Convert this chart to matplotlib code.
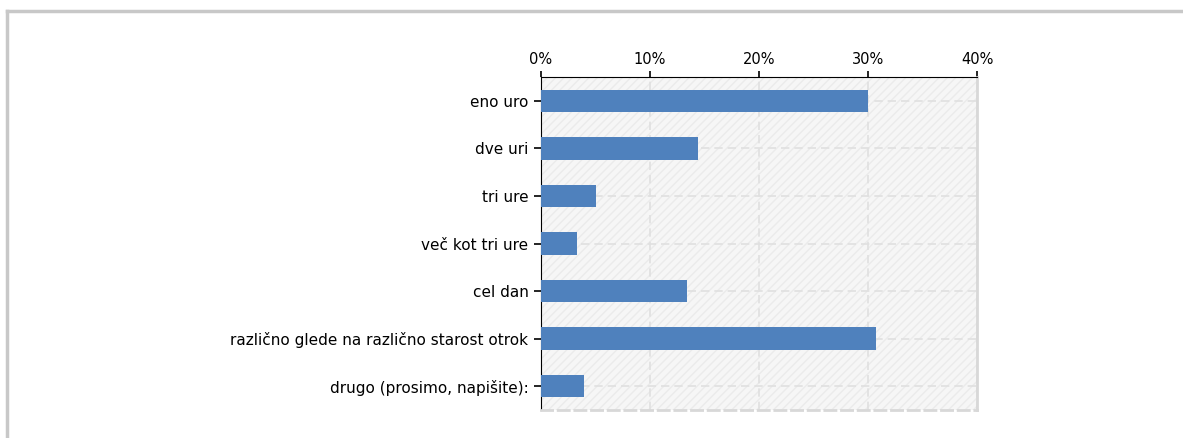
import matplotlib.pyplot as plt
from matplotlib.lines import Line2D
from matplotlib.patches import Rectangle
from matplotlib.ticker import PercentFormatter

kategorije = ['eno uro', 'dve uri', 'tri ure', 'več kot tri ure', 'cel dan',
              'različno glede na različno starost otrok', 'drugo (prosimo, napišite):']
delezi = [30.0, 14.4, 5.0, 3.3, 13.4, 30.7, 3.9]
x_ticks = [0, 10, 20, 30, 40]

fig = plt.figure(figsize=(11.83, 4.38), dpi=100)
ax = fig.add_axes([541 / 1183, 1 - 410 / 438, 436 / 1183, 333 / 438])

# hatched light background
ax.set_facecolor('#f6f6f6')
ax.add_patch(Rectangle((0, 0), 1, 1, transform=ax.transAxes, facecolor='none',
                       edgecolor='#ebebeb', hatch='////', lw=0, zorder=0))

y = list(range(len(kategorije)))
ax.barh(y, delezi, height=0.47, color='#4f81bd', zorder=3)

ax.set_xlim(0, 40)
ax.set_ylim(len(kategorije) - 0.5, -0.5)
ax.set_yticks(y)
ax.set_yticklabels(kategorije, fontsize=11)
ax.set_xticks(x_ticks)
ax.xaxis.set_major_formatter(PercentFormatter(decimals=0))
ax.xaxis.tick_top()
ax.tick_params(axis='x', labelsize=10.5, length=4, width=1.2, color='black', pad=3)
ax.tick_params(axis='y', length=5, width=1.2, color='black', pad=4)

ax.grid(True, color='#e0e0e0', linestyle=(0, (5, 3)), linewidth=1.2, zorder=1)
ax.set_axisbelow(True)

ax.spines['left'].set_color('black')
ax.spines['top'].set_color('black')
ax.spines['right'].set_color('#d8d8d8')
ax.spines['bottom'].set_color('#d8d8d8')
ax.spines['right'].set_linewidth(2)
ax.spines['bottom'].set_linestyle((0, (4, 2)))
ax.spines['bottom'].set_linewidth(2)

# gray frame of the page
fig.add_artist(Line2D([7 / 1183, 1], [1 - 11 / 438, 1 - 11 / 438], color='#c8c8c8', lw=2.5))
fig.add_artist(Line2D([7 / 1183, 7 / 1183], [0, 1 - 11 / 438], color='#c8c8c8', lw=2.5))

fig.savefig('out.png', dpi=100)
